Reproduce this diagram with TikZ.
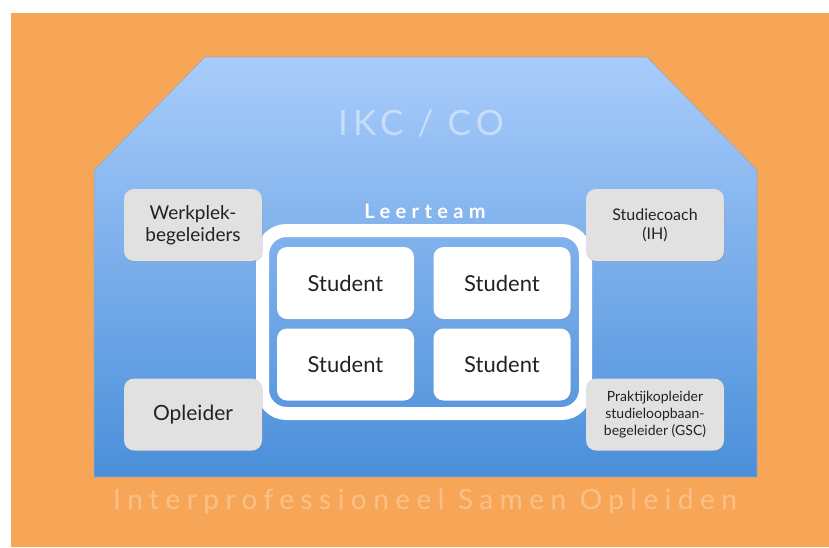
\documentclass[tikz,border=0pt]{standalone}
\usepackage{fontspec}
\setmainfont{Lato}
\newfontfamily\titlefont[LetterSpace=15]{Lato}
\newfontfamily\teamfont[LetterSpace=27]{Lato}
\newfontfamily\footfont[LetterSpace=23]{Lato}
\usetikzlibrary{shadows}

\definecolor{bgorange}{HTML}{F7A657}
\definecolor{housetop}{HTML}{A9CCFB}
\definecolor{housebot}{HTML}{4A8FDA}
\definecolor{boxgray}{HTML}{E1E1E1}
\definecolor{txtgray}{HTML}{222222}

\tikzset{
  rolebox/.style={fill=boxgray, rounded corners=10pt, minimum width=138pt,
    minimum height=72pt, inner sep=0pt, align=center, text=txtgray,
    drop shadow={opacity=0.25, shadow xshift=0.8pt, shadow yshift=-1.2pt}},
  studentbox/.style={fill=white, rounded corners=10pt, minimum width=137pt,
    minimum height=72pt, inner sep=0pt, text=txtgray, font=\fontsize{22}{24}\selectfont,
    drop shadow={opacity=0.2, shadow xshift=0.8pt, shadow yshift=-1.2pt}}
}

\begin{document}
\begin{tikzpicture}[x=1pt,y=-1pt]

  \fill[white] (0,0) rectangle (829,547);
  \useasboundingbox (0,0) rectangle (829,547);
  \fill[bgorange] (11,13) rectangle (829,547);

  % the house
  \shade[top color=housetop, bottom color=housebot, draw=gray!70, line width=0.6pt]
    (205,57) -- (647,57) -- (757,170) -- (757,477) -- (94,477) -- (94,170) -- cycle;

  \node[text=white, text opacity=0.45, font=\titlefont\fontsize{35}{38}\selectfont] (ikc) at (421,123) {IKC / CO};

  % leerteam
  \draw[white, line width=13pt, rounded corners=24pt] (262.5,230.5) rectangle (585.5,413.5);
  \node[text=white, font=\teamfont\bfseries\fontsize{20}{22}\selectfont] (leerteam) at (425,211) {Leerteam};

  \node[studentbox] (s1) at (345.5,283) {Student};
  \node[studentbox] (s2) at (502,283) {Student};
  \node[studentbox] (s3) at (345.5,364.5) {Student};
  \node[studentbox] (s4) at (502,364.5) {Student};

  % roles
  \node[rolebox, font=\fontsize{19}{22}\selectfont] (werkplek) at (193,225) {Werkplek-\\begeleiders};
  \node[rolebox, font=\fontsize{16}{19}\selectfont] (coach) at (655,225) {Studiecoach\\(IH)};
  \node[rolebox, font=\fontsize{21}{24}\selectfont] (opleider) at (193,414.5) {Opleider};
  \node[rolebox, font=\fontsize{14}{17}\selectfont] (praktijk) at (655,414.5)
    {Praktijkopleider\\studieloopbaan-\\begeleider (GSC)};

  \node[text=white, text opacity=0.3, font=\footfont\fontsize{28}{30}\selectfont] (ipso) at (425,502)
    {Interprofessioneel Samen Opleiden};
\end{tikzpicture}
\end{document}
